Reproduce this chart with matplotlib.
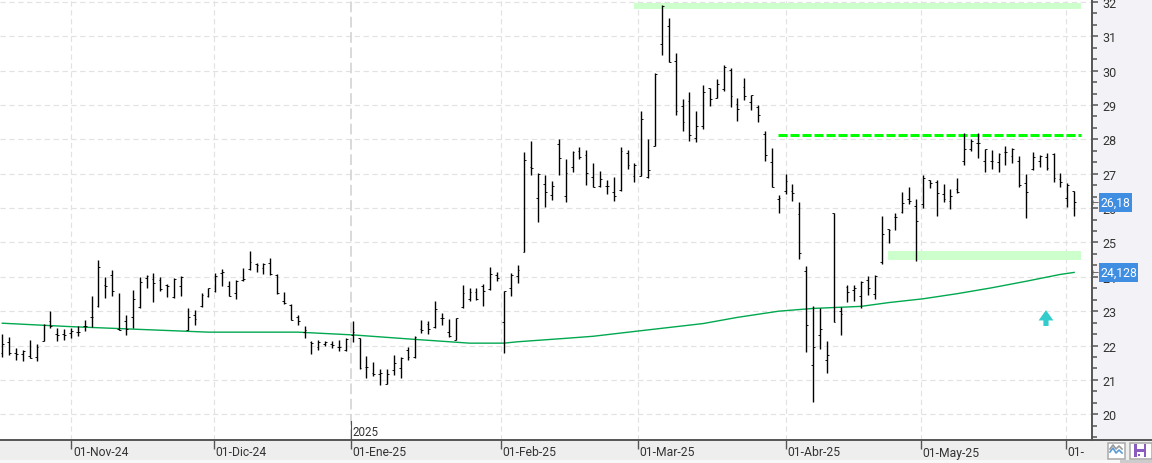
import numpy as np
import matplotlib
matplotlib.use("Agg")
from matplotlib import pyplot as plt
from matplotlib.patches import Rectangle
from matplotlib.lines import Line2D
from matplotlib.ticker import AutoMinorLocator, FixedLocator

# daily OHLC, one entry per session
opens = [21.79, 22.10, 21.79, 21.76, 21.69, 21.66, 22.13, 22.71, 22.34, 22.33,
         22.37, 22.38, 22.58, 22.82, 23.14, 23.76, 24.04, 22.49, 22.70, 22.83,
         23.12, 23.97, 23.94, 23.91, 23.76, 23.41, 23.73, 22.46, 22.89, 23.14,
         23.43, 23.60, 24.10, 23.74, 23.53, 23.92, 24.23, 24.37, 24.26, 24.39,
         24.05, 23.31, 23.18, 22.82, 22.39, 22.10, 21.96, 22.05, 22.04, 21.95,
         21.87, 22.31, 22.21, 21.37, 21.20, 21.18, 20.89, 21.29, 21.36, 21.86,
         21.66, 22.49, 22.63, 22.55, 22.81, 22.39, 22.17, 23.13, 23.34, 23.55,
         23.73, 23.64, 24.04, 22.68, 23.67, 24.02, 24.73, 27.19, 26.28, 26.69,
         26.37, 27.85, 26.34, 27.19, 27.67, 27.55, 26.89, 26.63, 26.65, 26.47,
         26.52, 27.59, 26.92, 26.92, 26.89, 27.80, 30.76, 31.29, 30.27, 28.96,
         29.11, 28.03, 28.38, 29.48, 29.21, 29.46, 30.01, 29.02, 29.51, 29.08,
         28.93, 28.15, 27.33, 26.25, 26.51, 26.49, 25.82, 24.16, 21.43, 22.30,
         21.57, 25.86, 23.00, 23.69, 23.61, 23.43, 23.90, 23.49, 24.44, 25.38,
         25.73, 25.88, 26.26, 26.05, 26.11, 26.81, 26.75, 26.40, 26.20, 26.55,
         27.36, 27.71, 27.89, 27.36, 27.36, 27.33, 27.62, 27.51, 27.36, 26.72,
         27.13, 27.36, 27.48, 27.57, 26.84, 26.29, 26.49]
highs = [22.34, 22.24, 21.92, 21.86, 22.17, 22.05, 22.63, 23.01, 22.50, 22.49,
         22.50, 22.56, 22.75, 23.44, 24.49, 24.00, 24.20, 23.52, 22.89, 23.62,
         23.99, 24.05, 24.11, 23.99, 23.79, 23.97, 24.02, 23.10, 23.04, 23.52,
         23.68, 24.11, 24.23, 23.89, 23.91, 24.26, 24.74, 24.40, 24.40, 24.54,
         24.07, 23.55, 23.20, 22.89, 22.57, 22.12, 22.15, 22.13, 22.13, 22.17,
         22.21, 22.71, 22.21, 21.70, 21.53, 21.32, 21.32, 21.73, 21.67, 21.96,
         22.27, 22.74, 22.70, 23.30, 22.95, 22.76, 22.81, 23.76, 23.68, 23.68,
         23.79, 24.29, 24.15, 23.59, 24.11, 24.35, 27.62, 27.94, 27.01, 26.96,
         26.79, 28.00, 27.42, 27.65, 27.77, 27.68, 27.30, 27.07, 26.81, 26.90,
         27.77, 27.68, 27.30, 28.81, 28.00, 29.92, 31.90, 31.52, 30.50, 29.16,
         29.37, 28.81, 29.57, 29.48, 29.76, 30.15, 30.07, 29.19, 29.78, 29.28,
         28.99, 28.23, 27.74, 26.37, 26.98, 26.69, 26.17, 24.32, 23.14, 23.08,
         22.12, 25.87, 23.11, 23.75, 23.75, 23.87, 24.02, 24.04, 25.76, 25.39,
         25.85, 26.46, 26.61, 26.26, 26.95, 26.81, 26.81, 26.69, 26.55, 26.87,
         28.18, 28.01, 28.18, 27.71, 27.68, 27.59, 27.80, 27.74, 27.51, 26.98,
         27.62, 27.54, 27.60, 27.60, 27.01, 26.72, 26.49]
lows = [21.66, 21.73, 21.59, 21.56, 21.63, 21.54, 22.12, 22.50, 22.12, 22.15,
        22.22, 22.29, 22.42, 22.54, 23.13, 23.37, 23.45, 22.44, 22.32, 22.50,
        23.10, 23.68, 23.28, 23.59, 23.42, 23.37, 23.45, 22.44, 22.60, 23.12,
        23.41, 23.57, 23.73, 23.44, 23.36, 23.89, 24.21, 24.15, 24.09, 24.05,
        23.49, 23.22, 22.73, 22.61, 22.23, 21.76, 21.88, 22.00, 21.94, 21.85,
        21.85, 22.10, 21.32, 21.07, 21.10, 20.84, 20.87, 21.13, 21.07, 21.59,
        21.65, 22.37, 22.34, 22.52, 22.60, 22.26, 22.15, 23.10, 23.31, 23.33,
        23.15, 23.63, 23.89, 21.79, 23.45, 23.82, 24.71, 26.97, 25.60, 26.04,
        26.24, 26.97, 26.19, 27.06, 27.44, 26.68, 26.62, 26.62, 26.42, 26.21,
        26.51, 27.15, 26.77, 26.92, 26.88, 27.80, 30.46, 30.24, 28.72, 28.25,
        27.96, 27.93, 28.29, 28.98, 29.21, 29.40, 28.95, 28.54, 29.15, 28.86,
        28.51, 27.38, 26.62, 25.87, 26.42, 26.22, 24.53, 21.82, 20.37, 21.91,
        21.21, 22.68, 22.32, 23.28, 23.31, 23.10, 23.48, 23.34, 24.38, 24.97,
        25.37, 25.87, 26.13, 24.47, 25.99, 26.58, 25.78, 26.19, 25.96, 26.43,
        27.24, 27.65, 27.47, 27.06, 27.15, 27.06, 27.24, 27.32, 26.61, 25.72,
        27.12, 27.19, 27.10, 26.75, 26.61, 26.04, 25.78]
closes = [22.05, 21.78, 21.76, 21.83, 21.64, 21.95, 22.61, 22.58, 22.32, 22.31,
          22.43, 22.39, 22.56, 22.83, 24.28, 23.74, 23.59, 22.46, 22.49, 23.35,
          23.84, 24.01, 23.82, 23.64, 23.74, 23.94, 24.00, 22.82, 22.76, 23.48,
          23.67, 24.03, 24.13, 23.45, 23.89, 23.94, 24.42, 24.35, 24.38, 24.07,
          23.52, 23.24, 22.75, 22.70, 22.45, 22.08, 22.11, 22.10, 22.02, 21.97,
          22.19, 22.39, 21.34, 21.37, 21.17, 21.20, 21.18, 21.50, 21.63, 21.66,
          22.24, 22.44, 22.47, 23.05, 22.80, 22.29, 22.81, 23.53, 23.55, 23.36,
          23.59, 24.08, 23.96, 23.58, 24.05, 24.21, 27.39, 27.17, 26.99, 26.46,
          26.63, 27.45, 27.01, 27.64, 27.50, 27.01, 26.62, 26.84, 26.63, 26.34,
          27.65, 27.24, 27.25, 28.58, 27.10, 29.91, 31.89, 30.24, 28.81, 28.49,
          28.12, 28.38, 29.37, 29.16, 29.60, 30.10, 29.25, 28.87, 29.25, 29.28,
          28.70, 27.53, 26.62, 26.28, 26.78, 26.43, 24.69, 22.59, 21.95, 22.47,
          21.73, 22.68, 22.91, 23.55, 23.67, 23.85, 23.67, 24.03, 25.24, 25.35,
          25.73, 26.14, 26.20, 25.62, 26.87, 26.72, 26.43, 26.26, 26.34, 26.46,
          27.71, 27.94, 27.89, 27.71, 27.36, 27.57, 27.62, 27.71, 26.66, 26.46,
          27.48, 27.51, 27.16, 26.87, 26.75, 26.66, 26.18]

# 200 session moving average, read at a few sessions
ma_bars = [0, 10, 20, 30, 43, 51, 60, 68, 73, 75, 82, 86, 92, 102, 107, 113,
           118, 125, 129, 134, 139, 144, 149, 154, 156]
ma_values = [22.65, 22.55, 22.47, 22.39, 22.39, 22.31, 22.18, 22.07, 22.07,
             22.11, 22.21, 22.27, 22.41, 22.64, 22.82, 23.00, 23.08, 23.14,
             23.25, 23.36, 23.51, 23.68, 23.87, 24.07, 24.128]

month_bars = [10.07, 30.74, 50.68, 72.52, 92.46, 114.0, 133.65, 154.76]
month_labels = ["01-Nov-24", "01-Dic-24", "01-Ene-25", "01-Feb-25",
                "01-Mar-25", "01-Abr-25", "01-May-25", "01-"]
price_ticks = [20, 21, 22, 23, 24, 25, 26, 27, 28, 29, 30, 31, 32]

resistance = 28.13
top_zone = (31.80, 31.98)
support_zone = (24.49, 24.75)
zone_right = 157.0
last_price = "26,18"
last_average = "24,128"

W, H = 1152, 464
PANEL_RIGHT = 1092
PANEL_BOTTOM = 441
TEXT_COLOR = "#333333"
AXIS_COLOR = "#555555"
GRID_COLOR = "#e2e2e2"

plt.rcParams['font.family'] = ['Roboto', 'DejaVu Sans']


def fig_rect(fig, x0, y0, x1, y1, **kwargs):
    # rectangle given in pixels from the top left corner of the window
    fig.add_artist(Rectangle((x0 / W, 1 - y1 / H), (x1 - x0) / W, (y1 - y0) / H,
                             transform=fig.transFigure, **kwargs))


def fig_line(fig, xs, ys, **kwargs):
    fig.add_artist(Line2D([x / W for x in xs], [1 - y / H for y in ys],
                          transform=fig.transFigure, **kwargs))


def draw_bottom_strip(fig):
    fig_rect(fig, 0, PANEL_BOTTOM, W, H, facecolor="#eeeeee", edgecolor="none", zorder=0)
    fig_rect(fig, 0, 461, W, H, facecolor="#f8f8f8", edgecolor="none", zorder=0)
    fig_rect(fig, 1120, 461, W, H, facecolor="#cccccc", edgecolor="none", zorder=0)


def draw_buttons(fig):
    fig_rect(fig, 1107.5, 443.5, 1124.5, 459.5, facecolor="white", edgecolor="#aaaaaa", lw=1.1, zorder=5)
    fig_line(fig, [1110, 1113, 1116, 1119, 1122], [450, 446, 450, 447, 450], color="#999999", lw=1.2, zorder=6)
    fig_line(fig, [1110, 1113, 1116, 1119, 1122], [453, 449, 454, 451, 454], color="#5b9bd5", lw=1.2, zorder=6)
    fig_rect(fig, 1129.5, 443.5, 1151.5, 459.5, facecolor="white", edgecolor="#aaaaaa", lw=1.1, zorder=5)
    fig_rect(fig, 1134, 445, 1146, 458, facecolor="#8a5cc0", edgecolor="none", zorder=6)
    fig_rect(fig, 1136.5, 445, 1143.5, 450, facecolor="white", edgecolor="none", zorder=7)
    fig_rect(fig, 1136.5, 453, 1143.5, 458, facecolor="white", edgecolor="none", zorder=7)
    fig_rect(fig, 1138, 455, 1140, 457, facecolor="#8a5cc0", edgecolor="none", zorder=8)


def draw_bars(ax):
    x = np.arange(len(closes))
    ax.vlines(x, lows, highs, color="black", lw=1.0, zorder=4)
    ax.hlines(opens, x - 0.26, x, color="black", lw=0.65, zorder=4)
    ax.hlines(closes, x, x + 0.26, color="black", lw=0.65, zorder=4)


def value_tag(fig, ax, text, value, left, right):
    # blue flag on the price scale, centred on its value
    y_px = H - ax.transData.transform((0, value))[1]
    fig_rect(fig, left, y_px - 9.5, right, y_px + 9.5, facecolor="#3f8ee2", edgecolor="none", zorder=5)
    fig.text((left + 1.5) / W, 1 - y_px / H, text, ha='left', va='center',
             color="white", fontsize=8.8, zorder=10)
    fig.text((PANEL_RIGHT - 1) / W, 1 - y_px / H, "\u2190", ha='left', va='center',
             color=AXIS_COLOR, fontsize=7, zorder=9, family='DejaVu Sans')


fig = plt.figure(figsize=(W / 100, H / 100), dpi=100, facecolor="#f3f3f7")
draw_bottom_strip(fig)

ax = fig.add_axes([0, 1 - PANEL_BOTTOM / H, PANEL_RIGHT / W, PANEL_BOTTOM / H], facecolor="white")
ax.set_xlim(-0.335, 158.6)
ax.set_ylim(19.252, 32.083)

# grid, with the year boundary drawn heavier
ax.set_axisbelow(True)
ax.grid(True, axis='y', color=GRID_COLOR, lw=0.85, ls=(0, (4.5, 3)), zorder=0)
for pos in month_bars:
    if pos == month_bars[2]:
        ax.axvline(pos, color="#d0d0d0", lw=1.1, ls=(0, (7, 3)), zorder=1)
    else:
        ax.axvline(pos, color=GRID_COLOR, lw=0.85, ls=(0, (4.5, 3)), zorder=1)

# zones and resistance
ax.fill_between([91.95, zone_right], top_zone[0], top_zone[1], color="#ccffcc", lw=0, zorder=2)
ax.fill_between([128.9, zone_right], support_zone[0], support_zone[1], color="#ccffcc", lw=0, zorder=2)
ax.plot([112.9, zone_right], [resistance, resistance], color="#00ff00", lw=2.16,
        ls=(0, (3, 1)), zorder=3, dash_capstyle='butt')

ax.plot(ma_bars, ma_values, color="#00a84f", lw=1.0, zorder=3)
draw_bars(ax)

ax.arrow(151.9, 22.57, 0, 0.46, width=0.75, head_width=2.15, head_length=0.30,
         length_includes_head=True, color="#33cccc", lw=0, zorder=5)

# right hand price scale
for side in ['top', 'left']:
    ax.spines[side].set_visible(False)
for side in ['right', 'bottom']:
    ax.spines[side].set_color(AXIS_COLOR)
    ax.spines[side].set_linewidth(1.4)
ax.yaxis.tick_right()
ax.yaxis.set_major_locator(FixedLocator(price_ticks))
ax.yaxis.set_minor_locator(AutoMinorLocator(3))
ax.tick_params(axis='y', which='major', length=4, width=1.1, color=AXIS_COLOR,
               labelsize=9, labelcolor=TEXT_COLOR, pad=3.5)
ax.tick_params(axis='y', which='minor', length=3.4, width=1.1, color=AXIS_COLOR)

# dates along the bottom
ax.set_xticks(month_bars)
ax.set_xticklabels([])
ax.tick_params(axis='x', which='major', length=6.5, width=1.0, color=AXIS_COLOR)
for pos, label in zip(month_bars, month_labels):
    ax.annotate(label, xy=(pos, 0), xycoords=('data', 'axes fraction'), xytext=(2, -12),
                textcoords='offset pixels', ha='left', va='center', fontsize=8.7,
                color=TEXT_COLOR, annotation_clip=False)
ax.annotate("2025", xy=(month_bars[2], 0), xycoords=('data', 'axes fraction'), xytext=(2, 9),
            textcoords='offset pixels', ha='left', va='center', fontsize=8.4, color=TEXT_COLOR)
ax.plot([month_bars[2], month_bars[2]], [19.252, 19.80], color=AXIS_COLOR, lw=0.8, zorder=3)

fig_line(fig, [PANEL_RIGHT, W], [PANEL_BOTTOM, PANEL_BOTTOM], color=AXIS_COLOR, lw=1.4, zorder=4)

value_tag(fig, ax, last_price, 26.16, 1099, 1132)
value_tag(fig, ax, last_average, 24.128, 1099, 1138)
draw_buttons(fig)

fig.savefig("out.png", dpi=100, facecolor=fig.get_facecolor())
